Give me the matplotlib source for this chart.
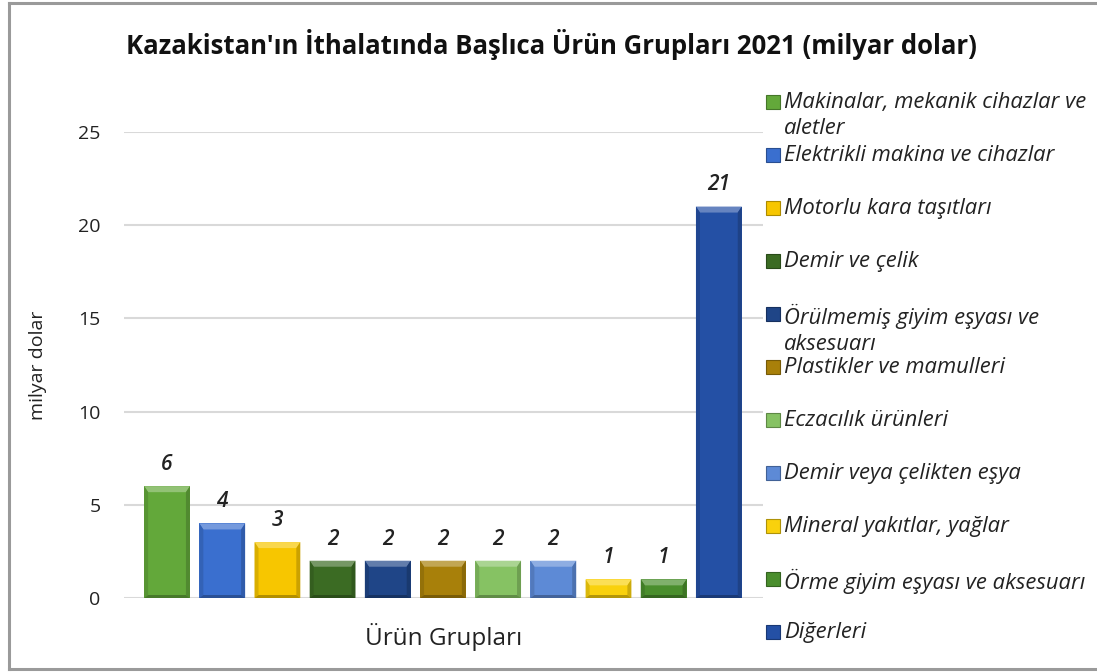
import matplotlib
matplotlib.use("Agg")
import matplotlib.pyplot as plt
from matplotlib.patches import Rectangle, Polygon
from matplotlib.lines import Line2D
from matplotlib.colors import to_rgb
import numpy as np

title = "Kazakistan'ın İthalatında Başlıca Ürün Grupları 2021 (milyar dolar)"
categories = [
    "Makinalar, mekanik cihazlar ve\naletler",
    "Elektrikli makina ve cihazlar",
    "Motorlu kara taşıtları",
    "Demir ve çelik",
    "Örülmemiş giyim eşyası ve\naksesuarı",
    "Plastikler ve mamulleri",
    "Eczacılık ürünleri",
    "Demir veya çelikten eşya",
    "Mineral yakıtlar, yağlar",
    "Örme giyim eşyası ve aksesuarı",
    "Diğerleri",
]
values = [6, 4, 3, 2, 2, 2, 2, 2, 1, 1, 21]
colors = ["#63a83a", "#3a6fcf", "#f7c600", "#3b6b23", "#1f4587",
          "#a8800a", "#86c263", "#5d8ad6", "#f9d10d", "#4a8e2d", "#2450a5"]
y_ticks = [0, 5, 10, 15, 20, 25]
x_label = "Ürün Grupları"
y_label = "milyar dolar"

W, H = 1097, 672
DPI = 100
plt.rcParams['font.family'] = ['Open Sans', 'DejaVu Sans']
fig = plt.figure(figsize=(W / DPI, H / DPI), dpi=DPI)

# outer frame (left, top, bottom only)
fc = "#9a9a9a"
for xs, ys in [([9, 9], [3, 669]), ([9, W + 5], [3, 3]), ([9, W + 5], [669, 669])]:
    fig.lines.append(Line2D([v / W for v in xs], [1 - v / H for v in ys], transform=fig.transFigure,
                            color=fc, linewidth=2.2))

ax = fig.add_axes([124 / W, (H - 598) / H, (763 - 124) / W, (598 - 132) / H])
x = np.arange(len(values))
bars = ax.bar(x, values, width=0.83, color=colors, edgecolor="none", zorder=3)
ax.set_xlim(-0.78, 10.8)
ax.set_ylim(0, 25)
ax.set_yticks(y_ticks)
ax.set_xticks([])
ax.grid(axis="y", color="#d9d9d9", linewidth=1.5, zorder=0)
for s in ax.spines.values():
    s.set_visible(False)
ax.tick_params(axis="y", length=0, pad=17, labelsize=14, labelcolor="#222222")

ax.set_xlabel(x_label, fontsize=17.5, color="#222222", labelpad=18)
ax.set_ylabel(y_label, fontsize=14, color="#222222", labelpad=22)

ax.bar_label(bars, labels=[str(v) for v in values], padding=8, fontsize=15,
             fontstyle="italic", fontweight="semibold", color="#222222")

# bevel effect drawn from each bar's geometry
fig.canvas.draw()
inv = fig.transFigure.inverted()
for b, c in zip(bars, colors):
    rgb = np.array(to_rgb(c))
    light = tuple(np.clip(rgb + (1 - rgb) * 0.3, 0, 1))
    dark = tuple(rgb * 0.72)
    (x0, y0), (x1, y1) = ax.transData.transform([(b.get_x(), 0), (b.get_x() + b.get_width(), b.get_height())])
    bev = min(6, (y1 - y0) / 3)
    side = 4
    def P(pts):
        return [inv.transform(p) for p in pts]
    fig.patches.append(Polygon(P([(x0, y1), (x1, y1), (x1 - side, y1 - bev), (x0 + side, y1 - bev)]),
                               closed=True, transform=fig.transFigure, facecolor=light, edgecolor="none", zorder=5))
    fig.patches.append(Polygon(P([(x0, y0), (x0, y1), (x0 + side, y1 - bev), (x0 + side, y0 + 3)]),
                               closed=True, transform=fig.transFigure, facecolor=tuple(rgb * 0.88), edgecolor="none", zorder=5))
    fig.patches.append(Polygon(P([(x1, y0), (x1, y1), (x1 - side, y1 - bev), (x1 - side, y0 + 3)]),
                               closed=True, transform=fig.transFigure, facecolor=tuple(rgb * 0.82), edgecolor="none", zorder=5))
    fig.patches.append(Polygon(P([(x0, y0), (x1, y0), (x1 - side, y0 + 3), (x0 + side, y0 + 3)]),
                               closed=True, transform=fig.transFigure, facecolor=dark, edgecolor="none", zorder=5))

fig.text(551 / W, 1 - 45 / H, title, ha="center", va="center", fontsize=18.5,
         fontweight="bold", color="#111111")

# legend
leg_top = 102
slot = 53.0
for i, (lab, c) in enumerate(zip(categories, colors)):
    yc = leg_top + i * slot
    rgb = np.array(to_rgb(c))
    fig.patches.append(Rectangle((766 / W, 1 - (yc + 7) / H), 14 / W, 14 / H,
                                 transform=fig.transFigure, facecolor=c,
                                 edgecolor=tuple(rgb * 0.7), linewidth=0.8))
    fig.text(784 / W, 1 - (yc - 10) / H, lab, ha="left", va="top", fontsize=15.8,
             fontstyle="italic", color="#222222", linespacing=1.3)

fig.savefig("out.png", dpi=DPI, facecolor="white")
